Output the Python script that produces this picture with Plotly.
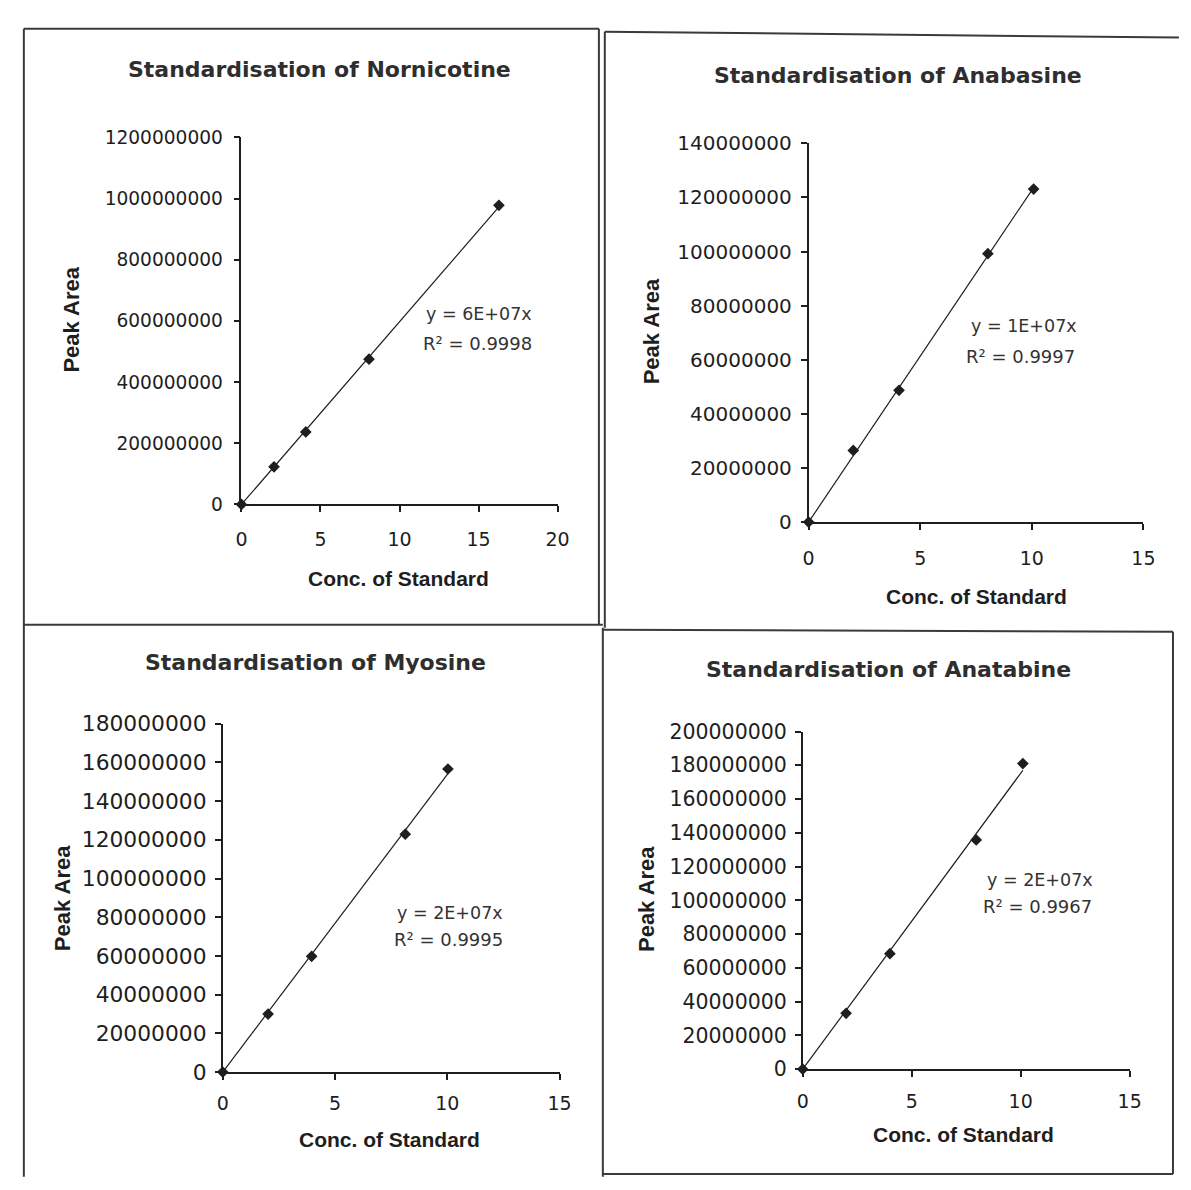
import plotly.graph_objects as go

# ---------------- data ----------------
titles = ["Standardisation of Nornicotine", "Standardisation of Anabasine",
          "Standardisation of Myosine", "Standardisation of Anatabine"]

nornicotine_conc = [0, 2.06, 4.07, 8.07, 16.29]
nornicotine_area = [0, 123e6, 237e6, 475e6, 978e6]

anabasine_conc = [0, 2.0, 4.05, 8.03, 10.08]
anabasine_area = [0, 26.5e6, 48.7e6, 99.2e6, 123.1e6]

myosine_conc = [0, 2.02, 3.96, 8.13, 10.03]
myosine_area = [0, 30.0e6, 59.8e6, 122.9e6, 156.6e6]

anatabine_conc = [0, 1.99, 4.0, 7.96, 10.1]
anatabine_area = [0, 33.1e6, 68.4e6, 135.8e6, 181e6]

equations = ["y = 6E+07x", "y = 1E+07x", "y = 2E+07x", "y = 2E+07x"]
r_squared = ["0.9998", "0.9997", "0.9995", "0.9967"]

x_axis_max = [20, 15, 15, 15]
y_axis_max = [1.2e9, 1.4e8, 1.8e8, 2.0e8]
y_axis_step = [2e8, 2e7, 2e7, 2e7]
x_axis_step = 5

x_title = "Conc. of Standard"
y_title = "Peak Area"

series_x = [nornicotine_conc, anabasine_conc, myosine_conc, anatabine_conc]
series_y = [nornicotine_area, anabasine_area, myosine_area, anatabine_area]

# ---------------- layout (screen pixel positions) ----------------
# the page body keeps its default 8px margin, so the figure is sized to fit
OFF = 8
W, H = 1191 - 2 * OFF, 1190 - 2 * OFF


def fx(p):
    return (p - OFF) / W


def fy(p):
    return 1 - (p - OFF) / H


# plot area: (x_left, x_right, y_top, y_bottom) in screen pixels
plot_boxes = [(239, 560, 128, 503), (815, 1155, 134, 521),
              (220, 562, 727, 1083), (809, 1141, 735, 1080)]
title_pos = [(318, 59), (906, 65), (314, 664), (896, 672)]
ytitle_pos = [(66, 314), (655, 326), (58, 905), (651, 906)]
xtitle_pos = [(398, 579), (985, 597), (389, 1152), (972, 1147)]
eq_pos = [(424, 308), (978, 321), (395, 920), (994, 887)]
r2_pos = [(421, 339), (973, 352), (392, 947), (990, 914)]
ytick_sizes = [18.6, 20, 21.8, 20.5]
ytick_standoff = [7, 5, 4, 4]
xtick_standoff = [11, 12, 7, 8]

INK = "#1e1e1e"

fig = go.Figure()
annotations = []
layout_axes = {}

for i in range(4):
    k = "" if i == 0 else str(i + 1)
    xs, ys = series_x[i], series_y[i]
    # trendline through origin (least squares)
    slope = sum(a * b for a, b in zip(xs, ys)) / sum(a * a for a in xs)
    xend = max(xs)
    fig.add_trace(go.Scatter(x=[0, xend], y=[0, slope * xend], mode="lines",
                             line=dict(color=INK, width=1.2),
                             xaxis="x" + k, yaxis="y" + k, showlegend=False,
                             hoverinfo="skip", cliponaxis=False))
    fig.add_trace(go.Scatter(x=xs, y=ys, mode="markers",
                             marker=dict(symbol="diamond", size=9, color=INK),
                             xaxis="x" + k, yaxis="y" + k, showlegend=False,
                             cliponaxis=False))

    xl, xr, yt, yb = plot_boxes[i]
    common = dict(showline=True, linecolor=INK, linewidth=1.6, ticks="outside",
                  ticklen=6, tickwidth=1.6, tickcolor=INK, showgrid=False,
                  zeroline=False, fixedrange=True)
    layout_axes["xaxis" + k] = dict(
        common, domain=[fx(xl), fx(xr)], anchor="y" + k,
        range=[0, x_axis_max[i]], dtick=x_axis_step, tick0=0,
        tickfont=dict(family="DejaVu Sans", size=19, color=INK),
        ticklabelstandoff=xtick_standoff[i])
    layout_axes["yaxis" + k] = dict(
        common, domain=[fy(yb), fy(yt)], anchor="x" + k,
        range=[0, y_axis_max[i]], dtick=y_axis_step[i], tick0=0,
        tickformat="d",
        tickfont=dict(family="DejaVu Sans", size=ytick_sizes[i], color=INK),
        ticklabelstandoff=ytick_standoff[i])

    tx, ty = title_pos[i]
    annotations.append(dict(text=titles[i], x=fx(tx), y=fy(ty), xref="paper",
                            yref="paper", showarrow=False, xanchor="center",
                            yanchor="middle",
                            font=dict(family="DejaVu Sans", size=22,
                                      color="#2e2e2e", weight="bold")))
    ax_, ay_ = ytitle_pos[i]
    annotations.append(dict(text=y_title, x=fx(ax_), y=fy(ay_), xref="paper",
                            yref="paper", showarrow=False, textangle=-90,
                            xanchor="center", yanchor="middle",
                            font=dict(family="Liberation Sans", size=22,
                                      color=INK, weight="bold")))
    bx, by = xtitle_pos[i]
    annotations.append(dict(text=x_title, x=fx(bx), y=fy(by), xref="paper",
                            yref="paper", showarrow=False, xanchor="center",
                            yanchor="middle",
                            font=dict(family="Liberation Sans", size=21,
                                      color=INK, weight="bold")))
    ex, ey = eq_pos[i]
    annotations.append(dict(text=equations[i], x=fx(ex), y=fy(ey), xref="paper",
                            yref="paper", showarrow=False, xanchor="left",
                            yanchor="middle",
                            font=dict(family="DejaVu Sans", size=17.5, color="#333")))
    rx, ry = r2_pos[i]
    annotations.append(dict(text="R² = " + r_squared[i], x=fx(rx),
                            y=fy(ry), xref="paper", yref="paper",
                            showarrow=False, xanchor="left", yanchor="middle",
                            font=dict(family="DejaVu Sans", size=18, color="#333")))

# panel borders of the scanned page (screen pixels)
border_lines = [
    (18, 17, 18, 1190), (18, 17, 602, 17), (602, 17, 602, 626),
    (608, 20, 608, 629), (608, 20, 1191, 26), (18, 626, 606, 626),
    (606, 631, 1185, 633), (606, 629, 606, 1190), (1185, 633, 1185, 1187),
    (606, 1187, 1185, 1187),
]
shapes = [dict(type="line", xref="paper", yref="paper", x0=fx(a), y0=fy(b),
               x1=fx(c), y1=fy(d), line=dict(color="#3a3a3a", width=2))
          for a, b, c, d in border_lines]

fig.update_layout(
    width=W, height=H, margin=dict(l=0, r=0, t=0, b=0),
    paper_bgcolor="white", plot_bgcolor="rgba(0,0,0,0)",
    annotations=annotations, shapes=shapes, showlegend=False,
    **layout_axes,
)

fig.write_html("out.html", config={"displayModeBar": False})
